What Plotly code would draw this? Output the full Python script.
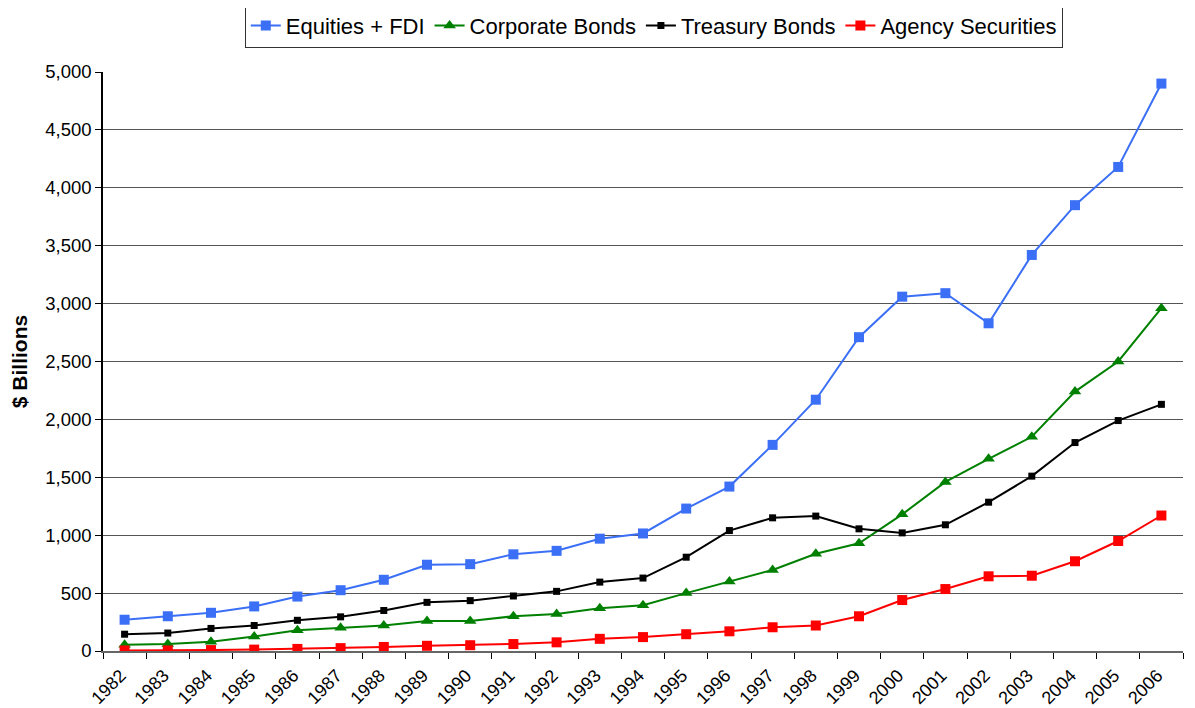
import plotly.graph_objects as go

years = [str(y) for y in range(1982, 2007)]
equities_fdi = [270, 300, 330, 385, 470, 525, 615, 745, 750, 835, 865, 970, 1015,
                1230, 1420, 1780, 2170, 2710, 3060, 3090, 2830, 3420, 3850, 4180, 4900]
corporate_bonds = [55, 60, 80, 125, 180, 200, 220, 260, 260, 300, 320, 370, 395,
                   500, 600, 700, 840, 930, 1180, 1460, 1660, 1850, 2240, 2500, 2960]
treasury_bonds = [145, 155, 195, 220, 265, 295, 350, 420, 435, 475, 515, 595, 630,
                  810, 1040, 1150, 1165, 1055, 1020, 1090, 1285, 1510, 1800, 1990, 2130]
agency_securities = [5, 5, 8, 12, 18, 25, 35, 45, 50, 60, 75, 105, 120,
                     145, 170, 205, 220, 300, 440, 535, 645, 650, 775, 950, 1170]

series = [
    ("Equities + FDI", equities_fdi, "#3b6ff5", "square", 10),
    ("Corporate Bonds", corporate_bonds, "#008000", "triangle-up", 11),
    ("Treasury Bonds", treasury_bonds, "#000000", "square", 7),
    ("Agency Securities", agency_securities, "#ff0000", "square", 10),
]

fig = go.Figure()
for name, vals, color, sym, size in series:
    fig.add_trace(go.Scatter(
        x=years, y=vals, name=name, mode="lines+markers",
        line=dict(color=color, width=2),
        marker=dict(symbol=sym, size=size, color=color),
    ))

fig.update_layout(
    width=1187, height=700,
    margin=dict(l=95, r=12, t=64, b=57, autoexpand=False),
    paper_bgcolor="white", plot_bgcolor="white",
    font=dict(family="Liberation Sans, Arial, sans-serif", size=17, color="black"),
    legend=dict(orientation="h", x=0.51, xanchor="center", y=1.08, yanchor="middle",
                bordercolor="#333333", borderwidth=1, font=dict(size=22),
                tracegroupgap=0),
    showlegend=True,
)
fig.update_xaxes(
    type="category", range=[-0.5, 24.5], tickangle=-45, tickson="boundaries",
    ticks="outside", ticklen=6, tickcolor="black", showline=True,
    linecolor="#666666", linewidth=2, showgrid=False, tickfont=dict(size=18),
    ticklabelstandoff=5, ticklabelshift=-4,
)
fig.update_yaxes(
    range=[0, 5000], dtick=500, tickformat=",", ticks="outside", ticklen=6,
    tickcolor="black", showline=True, linecolor="black", linewidth=1.5,
    showgrid=True, gridcolor="#555555", gridwidth=1, zeroline=False,
    title=dict(text="<b>$ Billions</b>", font=dict(size=21), standoff=12),
    tickfont=dict(size=18.5),
)

fig.write_html("out.html")
